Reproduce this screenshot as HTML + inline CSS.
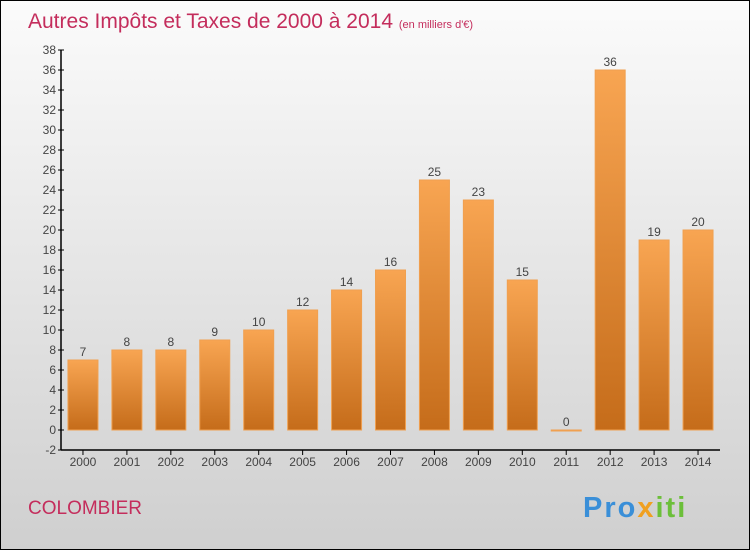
<!DOCTYPE html>
<html><head><meta charset="utf-8"><style>
body{margin:0}
svg{display:block;font-family:"Liberation Sans",sans-serif}
</style></head><body>
<svg id="c" width="750" height="550" xmlns="http://www.w3.org/2000/svg">
<defs>
<linearGradient id="bg" x1="0" y1="0" x2="0" y2="1"><stop offset="0" stop-color="#fbfbfb"/><stop offset="1" stop-color="#cfcfcf"/></linearGradient>
<linearGradient id="bar" x1="0" y1="0" x2="0" y2="1"><stop offset="0" stop-color="#f8a552"/><stop offset="1" stop-color="#c56c1a"/></linearGradient>
</defs>
<rect x="0.5" y="0.5" width="749" height="549" fill="url(#bg)" stroke="#000"/>
<text x="28" y="28" font-size="21" fill="#c42d5c">Autres Impôts et Taxes de 2000 à 2014 <tspan font-size="11">(en milliers d'€)</tspan></text>
<text x="28" y="514" font-size="19" fill="#c42d5c">COLOMBIER</text>
<text x="583" y="517" font-size="29" letter-spacing="2" font-weight="bold" fill="#3a8fd8">Pro<tspan fill="#f0a020">x</tspan><tspan fill="#6cbf3a">iti</tspan></text>
<g id="plot"></g>
</svg>
<script>
const years=["2000","2001","2002","2003","2004","2005","2006","2007","2008","2009","2010","2011","2012","2013","2014"];
const values=[7,8,8,9,10,12,14,16,25,23,15,0,36,19,20];
const yTicks=[-2,0,2,4,6,8,10,12,14,16,18,20,22,24,26,28,30,32,34,36,38];
const NS="http://www.w3.org/2000/svg";
const g=document.getElementById('plot');
const x0=61,x1=720,yMin=-2,yMax=38,py0=450,py1=50;
const band=(x1-x0)/years.length;
const y=v=>py0-(v-yMin)*(py0-py1)/(yMax-yMin);
const xc=i=>x0+band*(i+0.5);
function el(t,a,p){const e=document.createElementNS(NS,t);for(const k in a)e.setAttribute(k,a[k]);(p||g).appendChild(e);return e;}
const ax=el('line',{x1:x0,y1:py1,x2:x0,y2:py0,stroke:'#000','stroke-width':1.5});


const bx=el('line',{x1:x0,y1:py0,x2:x1,y2:py0,stroke:'#000','stroke-width':1.5});


yTicks.forEach(t=>{
  el('line',{x1:x0-3,y1:y(t),x2:x0+3,y2:y(t),stroke:'#000'});
  const tx=el('text',{x:x0-5,y:y(t)+4,'font-size':12,'text-anchor':'end',fill:'#444'});
  tx.textContent=t;
  
  
});
years.forEach((yr,i)=>{
  el('line',{x1:xc(i),y1:py0,x2:xc(i),y2:py0+5,stroke:'#000'});
  const tx=el('text',{x:xc(i),y:py0+16,'font-size':12,'text-anchor':'middle',fill:'#444'});
  tx.textContent=yr;
  
  
  const v=values[i];
  const top=y(Math.max(v,0)),h=Math.max(Math.abs(y(0)-y(v)),1);
  const r=el('rect',{x:xc(i)-15,y:top,width:30,height:h,fill:'url(#bar)',stroke:'#f0a050','stroke-width':1});
  
  
  const lb=el('text',{x:xc(i),y:top-4,'font-size':12,'text-anchor':'middle',fill:'#444'});
  lb.textContent=v;
  
  
});
</script>
</body></html>
